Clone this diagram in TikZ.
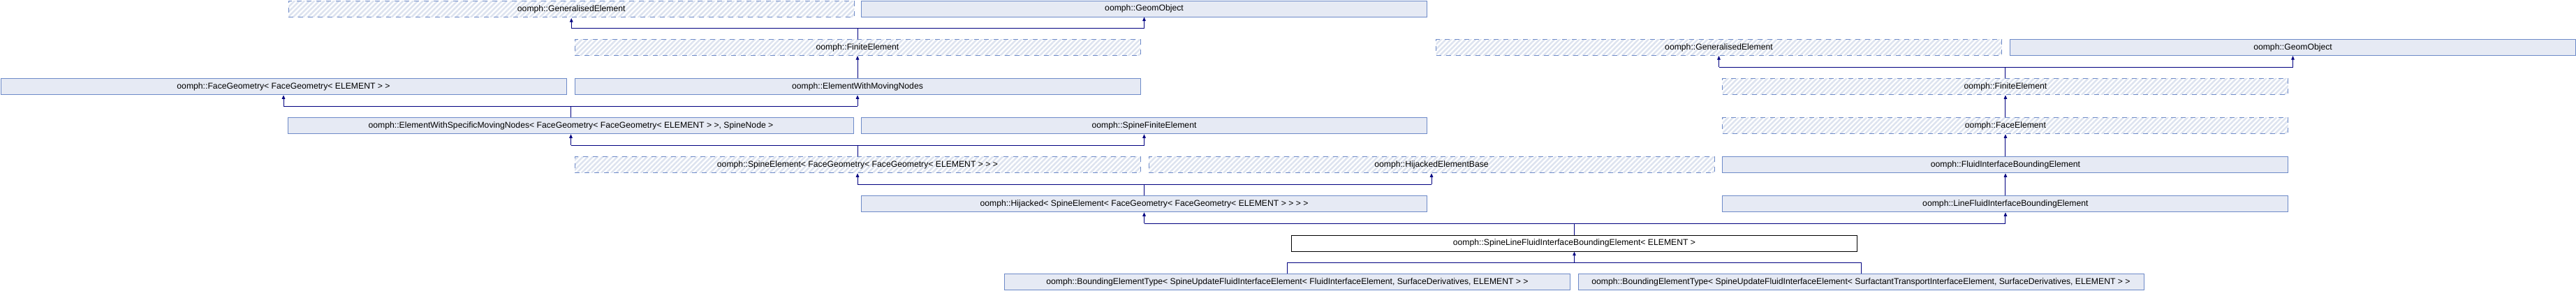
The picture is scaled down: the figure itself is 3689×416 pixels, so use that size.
\documentclass[tikz,border=0pt]{standalone}
\usepackage{fontspec}
\setmainfont{Liberation Sans}
\usetikzlibrary{arrows.meta,patterns.meta}
\definecolor{boxfill}{HTML}{E6EAF4}
\definecolor{boxline}{HTML}{6D8AC8}
\definecolor{hatchcol}{HTML}{DDE3EF}
\definecolor{navy}{HTML}{000080}
\tikzset{
  base/.style={anchor=north west, minimum width=810pt, minimum height=23pt, inner sep=0pt,
    font=\fontsize{12.2}{14}\selectfont, line width=1pt},
  docbox/.style={base, draw=boxline, fill=boxfill},
  undoc/.style={base, draw=boxline, dash pattern=on 7pt off 7pt,
    pattern={Lines[angle=45,distance=5pt,line width=2.5pt]}, pattern color=hatchcol},
  curbox/.style={base, draw=black, fill=white},
  vline/.style={draw=navy, line width=1pt},
  hline/.style={draw=navy, line width=1.6pt},
  arr/.style={draw=navy, line width=1pt, -{Triangle[length=5.5pt,width=4.5pt]}},
}
\begin{document}
\begin{tikzpicture}[x=1pt,y=-1pt]
\useasboundingbox (0,0) rectangle (3689,416);
% row 0
\node[undoc]  (ge1) at (412,0.5)   {oomph::GeneralisedElement};
\node[docbox] (go1) at (1233,0.5)  {oomph::GeomObject};
% row 1
\node[undoc]  (fe1) at (822.5,56)  {oomph::FiniteElement};
\node[undoc]  (ge2) at (2056,56)   {oomph::GeneralisedElement};
\node[docbox] (go2) at (2878,56)   {oomph::GeomObject};
% row 2
\node[docbox] (fg)   at (0.5,112.3)   {oomph::FaceGeometry< FaceGeometry< ELEMENT > >};
\node[docbox] (ewmn) at (822.5,112.3) {oomph::ElementWithMovingNodes};
\node[undoc]  (fe2)  at (2466.4,112.3) {oomph::FiniteElement};
% row 3
\node[docbox] (ewsmn) at (412,168.3)   {oomph::ElementWithSpecificMovingNodes< FaceGeometry< FaceGeometry< ELEMENT > >, SpineNode >};
\node[docbox] (sfe)   at (1233,168.3)  {oomph::SpineFiniteElement};
\node[undoc]  (face)  at (2466.4,168.3) {oomph::FaceElement};
% row 4
\node[undoc]  (se)   at (822.5,224.3)  {oomph::SpineElement< FaceGeometry< FaceGeometry< ELEMENT > > >};
\node[undoc]  (heb)  at (1644.5,224.3) {oomph::HijackedElementBase};
\node[docbox] (fibe) at (2466.4,224.3) {oomph::FluidInterfaceBoundingElement};
% row 5
\node[docbox] (hij)   at (1233,280.3)   {oomph::Hijacked< SpineElement< FaceGeometry< FaceGeometry< ELEMENT > > > >};
\node[docbox] (lfibe) at (2466.4,280.3) {oomph::LineFluidInterfaceBoundingElement};
% row 6
\node[curbox] (slf) at (1849,336.7) {oomph::SpineLineFluidInterfaceBoundingElement< ELEMENT >};
% row 7
\node[docbox] (b1) at (1438,392.3)   {oomph::BoundingElementType< SpineUpdateFluidInterfaceElement< FluidInterfaceElement, SurfaceDerivatives, ELEMENT > >};
\node[docbox] (b2) at (2259.5,392.3) {oomph::BoundingElementType< SpineUpdateFluidInterfaceElement< SurfactantTransportInterfaceElement, SurfaceDerivatives, ELEMENT > >};

% fe1 -> ge1, go1
\draw[vline] (fe1.north) -- ++(0,-15.7) coordinate (j1);
\draw[hline] (ge1.south |- j1) -- (go1.south |- j1);
\draw[arr] (ge1.south |- j1) -- (ge1.south);
\draw[arr] (go1.south |- j1) -- (go1.south);
% ewmn -> fe1
\draw[arr] (ewmn.north) -- (fe1.south);
% ewsmn -> fg, ewmn
\draw[vline] (ewsmn.north) -- ++(0,-16) coordinate (j2);
\draw[hline] (fg.south |- j2) -- (ewmn.south |- j2);
\draw[arr] (fg.south |- j2) -- (fg.south);
\draw[arr] (ewmn.south |- j2) -- (ewmn.south);
% se -> ewsmn, sfe
\draw[vline] (se.north) -- ++(0,-16) coordinate (j3);
\draw[hline] (ewsmn.south |- j3) -- (sfe.south |- j3);
\draw[arr] (ewsmn.south |- j3) -- (ewsmn.south);
\draw[arr] (sfe.south |- j3) -- (sfe.south);
% hij -> se, heb
\draw[vline] (hij.north) -- ++(0,-16) coordinate (j4);
\draw[hline] (se.south |- j4) -- (heb.south |- j4);
\draw[arr] (se.south |- j4) -- (se.south);
\draw[arr] (heb.south |- j4) -- (heb.south);
% right column
\draw[vline] (fe2.north) -- ++(0,-16) coordinate (j5);
\draw[hline] (ge2.south |- j5) -- (go2.south |- j5);
\draw[arr] (ge2.south |- j5) -- (ge2.south);
\draw[arr] (go2.south |- j5) -- (go2.south);
\draw[arr] (face.north) -- (fe2.south);
\draw[arr] (fibe.north) -- (face.south);
\draw[arr] (lfibe.north) -- (fibe.south);
% slf -> hij, lfibe
\draw[vline] (slf.north) -- ++(0,-16.4) coordinate (j6);
\draw[hline] (hij.south |- j6) -- (lfibe.south |- j6);
\draw[arr] (hij.south |- j6) -- (hij.south);
\draw[arr] (lfibe.south |- j6) -- (lfibe.south);
% b1, b2 -> slf
\draw[vline] (b1.north) -- ++(0,-16) coordinate (j7);
\draw[vline] (b2.north) -- (b2.north |- j7);
\draw[hline] (j7) -- (b2.north |- j7);
\draw[arr] (slf.south |- j7) -- (slf.south);
\end{tikzpicture}
\end{document}
